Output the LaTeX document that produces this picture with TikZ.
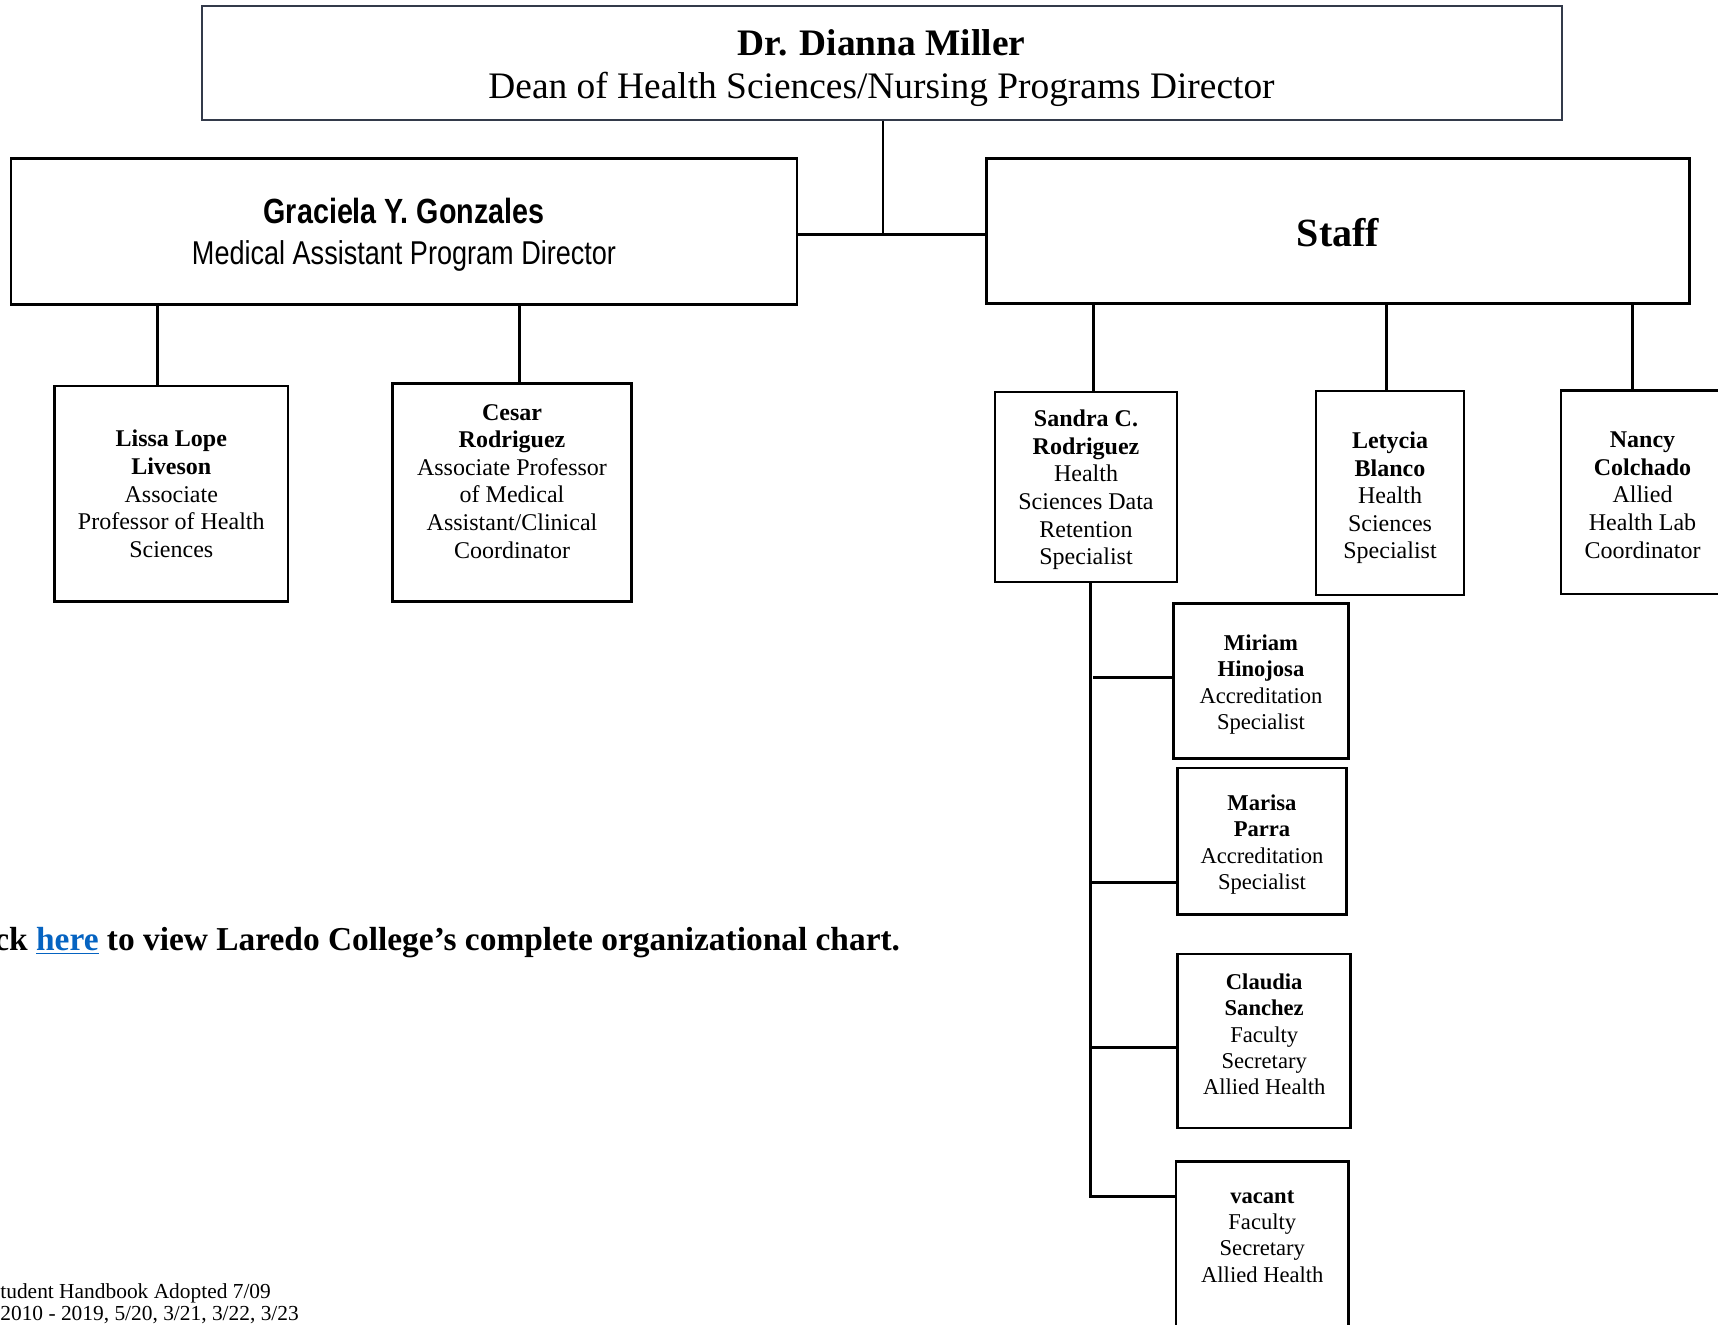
\documentclass[tikz,border=0pt]{standalone}
\usepackage{fontspec}
\setmainfont{Liberation Serif}
\newfontfamily\narrowsans[FakeStretch=0.82]{Liberation Sans}
\definecolor{linkblue}{HTML}{0563C1}
\definecolor{deanline}{HTML}{333A4A}

\begin{document}
\begin{tikzpicture}[x=0.5pt,y=-0.5pt,
    box/.style={draw,line width=1.4pt,align=center,inner sep=0pt,font=\fontsize{12}{13.8}\selectfont},
    smallbox/.style={box,font=\fontsize{11.3}{13.15}\selectfont},
    link/.style={line width=1.5pt}]
    \useasboundingbox (0,0) rectangle (1718,1324);

    % top of the chart
    \node (dean) [box, draw=deanline, line width=1pt, minimum width=680pt, minimum height=57pt,
      text height=40pt, font=\fontsize{18.7}{21.4}\selectfont] at (881.5,62.5)
      {\textbf{Dr. Dianna Miller}\\Dean of Health Sciences/Nursing Programs Director};
    \node (graciela) [box, minimum width=393pt, minimum height=72.9pt, text height=36.6pt,
      font=\narrowsans\fontsize{16.5}{20.3}\selectfont] at (404,231.2)
      {\textbf{\fontsize{17.5}{20.3}\selectfont Graciela Y. Gonzales}\\Medical Assistant Program Director};
    \node (staff) [box, minimum width=351.7pt, minimum height=72.3pt, text height=15.6pt,
      font=\fontsize{20}{24}\selectfont\bfseries] at (1338,231) {Staff};

    \coordinate (hub) at (882.7,234.3);
    \draw[link, line width=1pt] (dean.south -| hub) -- (hub);
    \draw[link] (graciela.east |- hub) -- (staff.west |- hub);

    % program faculty
    \node (lissa) [box, minimum width=116.6pt, minimum height=107.9pt] at (171.3,493.9)
      {\textbf{Lissa Lope}\\\textbf{Liveson}\\Associate\\Professor of Health\\Sciences};
    \node (cesar) [box, minimum width=119.3pt, minimum height=108.9pt, text depth=11pt] at (512,492.2)
      {\textbf{Cesar}\\\textbf{Rodriguez}\\Associate Professor\\of Medical\\Assistant/Clinical\\Coordinator};

    \coordinate (lissaTop) at ([xshift=-6.75pt]lissa.north);
    \coordinate (cesarTop) at ([xshift=3.5pt]cesar.north);
    \draw[link] (lissaTop) -- (lissaTop |- graciela.south);
    \draw[link] (cesarTop) -- (cesarTop |- graciela.south);

    % staff
    \node (sandra) [box, minimum width=91pt, minimum height=95pt, text height=80.2pt] at (1086,487)
      {\textbf{Sandra C.}\\\textbf{Rodriguez}\\Health\\Sciences Data\\Retention\\Specialist};
    \node (letycia) [box, minimum width=74pt, minimum height=102pt, text height=68.4pt] at (1390,493)
      {\textbf{Letycia}\\\textbf{Blanco}\\Health\\Sciences\\Specialist};
    \node (nancy) [box, minimum width=81.5pt, minimum height=101.7pt, text height=65.9pt] at (1642.5,492.3)
      {\textbf{Nancy}\\\textbf{Colchado}\\Allied\\Health Lab\\Coordinator};

    \coordinate (sandraTop) at ([xshift=3.5pt]sandra.north);
    \coordinate (letyciaTop) at ([xshift=-2pt]letycia.north);
    \coordinate (nancyTop) at ([xshift=-4.9pt]nancy.north);
    \draw[link] (sandraTop) -- (sandraTop |- staff.south);
    \draw[link] (letyciaTop) -- (letyciaTop |- staff.south);
    \draw[link] (nancyTop) -- (nancyTop |- staff.south);

    % under Sandra
    \node (miriam) [smallbox, minimum width=87.3pt, minimum height=77.5pt, text height=50.5pt] at (1261,681.2)
      {\textbf{Miriam}\\\textbf{Hinojosa}\\Accreditation\\Specialist};
    \node (marisa) [smallbox, minimum width=84.7pt, minimum height=73.3pt, text height=50.5pt] at (1262,841.3)
      {\textbf{Marisa}\\\textbf{Parra}\\Accreditation\\Specialist};
    \node (claudia) [smallbox, minimum width=86.5pt, minimum height=87pt, text depth=6.7pt] at (1264.2,1041)
      {\textbf{Claudia}\\\textbf{Sanchez}\\Faculty\\Secretary\\Allied Health};
    \node (vacant) [smallbox, minimum width=86.4pt, minimum height=119.2pt, text depth=44.6pt] at (1262.3,1280.9)
      {\textbf{vacant}\\Faculty\\Secretary\\Allied Health};

    \coordinate (spineTop) at ([xshift=2pt]sandra.south);
    \coordinate (spineEnd) at (1092,1196.7);
    \coordinate (miriamJoint) at (1093,677.3);
    \coordinate (marisaJoint) at (1090,882.3);
    \coordinate (claudiaJoint) at (1090,1047.7);
    \draw[link] (spineTop) -- (spineTop |- spineEnd) -- (vacant.west |- spineEnd);
    \draw[link] (miriamJoint) -- (miriam.west |- miriamJoint);
    \draw[link] (marisaJoint) -- (marisa.west |- marisaJoint);
    \draw[link] (claudiaJoint) -- (claudia.west |- claudiaJoint);

    % notes on the page
    \node (chartlink) [anchor=base west, inner sep=0pt, font=\fontsize{16.7}{20}\selectfont\bfseries] at (-6,950)
      {ck {\color{linkblue}\underline{here}} to view Laredo College’s complete organizational chart.};
    \node (handbook) [anchor=west, inner sep=0pt, align=left, font=\fontsize{10.7}{11}\selectfont] at (0,1303.5)
      {tudent Handbook Adopted 7/09\\2010 - 2019, 5/20, 3/21, 3/22, 3/23};
\end{tikzpicture}
\end{document}
